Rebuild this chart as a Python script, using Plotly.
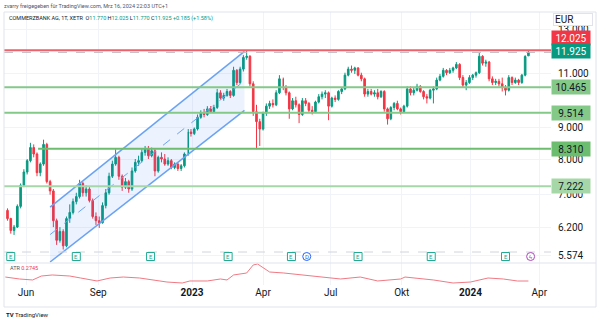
import math
import pandas as pd
import plotly.graph_objects as go
from plotly.subplots import make_subplots

# ---- Xetra sessions -------------------------------------------------------
holidays = ["2022-12-26", "2023-04-07", "2023-04-10", "2023-05-01",
            "2023-12-25", "2023-12-26", "2024-01-01", "2024-03-29"]

# ---- Commerzbank price candles (3-session bars, last bar = 2024-03-15) ----
opens = [6.60, 6.40, 6.12, 6.20, 6.70, 7.25, 7.62, 7.95, 8.35, 8.15,
         7.60, 7.85, 8.45, 7.35, 7.10, 6.35, 5.90, 6.10, 5.78, 6.40,
         6.55, 6.82, 6.95, 7.30, 7.05, 7.15, 6.85, 6.45, 6.35, 6.30,
         6.72, 7.05, 7.50, 7.85, 8.05, 7.50, 7.20, 7.35, 7.15, 7.65,
         7.90, 7.95, 8.20, 8.30, 8.10, 8.25, 7.65, 8.05, 8.00, 7.85,
         7.95, 7.75, 7.85, 7.72, 7.80, 8.15, 8.85, 8.80, 8.95, 9.35,
         9.50, 9.45, 9.65, 9.55, 9.70, 10.25, 10.05, 10.15, 10.30, 10.15,
         11.15, 10.65, 11.20, 11.70, 11.75, 10.60, 9.55, 9.20, 8.95, 9.50,
         9.75, 9.85, 9.80, 10.25, 10.80, 10.45, 10.25, 9.65, 9.95, 9.80,
         9.45, 9.95, 9.85, 9.60, 9.55, 9.90, 10.10, 10.20, 10.25, 9.75,
         10.05, 10.00, 10.30, 10.40, 10.95, 11.20, 11.15, 11.25, 10.95, 10.80,
         10.20, 10.30, 10.20, 10.25, 10.10, 10.30, 9.65, 9.30, 9.70, 9.85,
         9.65, 9.55, 9.75, 10.40, 10.25, 10.35, 10.50, 10.30, 10.10, 10.05,
         10.35, 10.40, 10.75, 10.90, 11.15, 11.05, 11.15, 11.25, 11.40, 10.85,
         10.55, 10.65, 10.85, 10.95, 11.05, 11.75, 11.45, 11.50, 10.80, 10.65,
         10.70, 10.60, 10.45, 10.35, 10.85, 10.65, 10.75, 10.65, 10.95, 11.770]
highs = [6.65, 6.42, 6.25, 6.75, 7.30, 7.70, 8.00, 8.50, 8.45, 8.20,
         7.90, 8.60, 8.50, 7.40, 7.15, 6.40, 6.20, 6.15, 6.45, 6.75,
         6.90, 7.05, 7.40, 7.35, 7.25, 7.20, 6.90, 6.55, 6.45, 6.80,
         7.15, 7.60, 7.95, 8.30, 8.10, 7.55, 7.45, 7.40, 7.75, 8.00,
         8.10, 8.30, 8.40, 8.40, 8.35, 8.30, 8.10, 8.20, 8.15, 8.05,
         8.00, 7.90, 7.90, 7.85, 8.20, 8.95, 8.95, 9.00, 9.45, 9.60,
         9.65, 9.75, 9.75, 9.80, 10.40, 10.35, 10.25, 10.40, 10.35, 11.30,
         11.20, 11.30, 11.80, 12.03, 11.80, 10.70, 9.80, 9.30, 9.55, 9.85,
         9.95, 10.00, 10.35, 10.95, 10.85, 10.55, 10.30, 10.05, 10.10, 9.85,
         10.05, 10.05, 9.90, 9.75, 9.95, 10.20, 10.30, 10.35, 10.30, 10.10,
         10.15, 10.35, 10.45, 11.05, 11.30, 11.35, 11.30, 11.28, 11.05, 10.85,
         10.40, 10.40, 10.35, 10.40, 10.35, 10.35, 9.70, 9.75, 9.90, 9.95,
         9.70, 9.80, 10.50, 10.50, 10.45, 10.60, 10.55, 10.35, 10.20, 10.40,
         10.50, 10.85, 11.00, 11.25, 11.20, 11.25, 11.30, 11.50, 11.45, 10.95,
         10.75, 10.95, 11.00, 11.10, 11.90, 11.80, 11.60, 11.55, 10.90, 10.80,
         10.80, 10.85, 10.55, 10.95, 10.90, 10.85, 10.80, 11.00, 11.80, 12.025]
lows = [6.35, 6.05, 6.02, 6.18, 6.65, 7.20, 7.55, 7.90, 8.05, 7.50,
        7.50, 7.80, 7.30, 7.00, 6.20, 5.80, 5.85, 5.70, 5.75, 6.30,
        6.50, 6.75, 6.90, 6.95, 6.95, 6.80, 6.40, 6.25, 6.18, 6.28,
        6.65, 7.00, 7.45, 7.80, 7.40, 7.10, 7.15, 7.05, 7.10, 7.60,
        7.80, 7.90, 8.10, 8.00, 8.05, 7.50, 7.60, 7.90, 7.80, 7.80,
        7.70, 7.70, 7.65, 7.65, 7.75, 8.10, 8.70, 8.75, 8.90, 9.30,
        9.35, 9.40, 9.50, 9.50, 9.65, 10.00, 9.95, 10.10, 10.05, 10.10,
        10.55, 10.60, 11.10, 11.60, 10.50, 9.40, 8.30, 8.40, 8.90, 9.40,
        9.65, 9.70, 9.75, 10.20, 10.35, 10.15, 9.30, 9.60, 9.70, 9.15,
        9.40, 9.75, 9.50, 9.45, 9.50, 9.85, 10.00, 10.05, 9.25, 9.70,
        9.90, 9.95, 10.20, 10.35, 10.90, 11.05, 11.00, 10.90, 10.70, 10.10,
        10.10, 10.15, 10.10, 10.00, 10.05, 9.55, 9.10, 9.25, 9.60, 9.60,
        9.45, 9.50, 9.70, 10.15, 10.15, 10.30, 10.25, 10.00, 9.85, 10.00,
        9.85, 10.35, 10.70, 10.85, 10.95, 11.00, 11.05, 11.20, 10.75, 10.45,
        10.35, 10.60, 10.75, 10.85, 11.00, 11.35, 11.30, 10.70, 10.55, 10.55,
        10.50, 10.30, 10.15, 10.30, 10.55, 10.60, 10.55, 10.60, 10.90, 11.770]
closes = [6.40, 6.12, 6.20, 6.70, 7.25, 7.62, 7.95, 8.35, 8.15, 7.60,
          7.85, 8.45, 7.35, 7.10, 6.35, 5.90, 6.10, 5.78, 6.40, 6.55,
          6.82, 6.95, 7.30, 7.05, 7.15, 6.85, 6.45, 6.35, 6.30, 6.72,
          7.05, 7.50, 7.85, 8.05, 7.50, 7.20, 7.35, 7.15, 7.65, 7.90,
          7.95, 8.20, 8.30, 8.10, 8.25, 7.65, 8.05, 8.00, 7.85, 7.95,
          7.75, 7.85, 7.72, 7.80, 8.15, 8.85, 8.80, 8.95, 9.35, 9.50,
          9.45, 9.65, 9.55, 9.70, 10.25, 10.05, 10.15, 10.30, 10.15, 11.15,
          10.65, 11.20, 11.70, 11.75, 10.60, 9.55, 9.20, 8.95, 9.50, 9.75,
          9.85, 9.80, 10.25, 10.80, 10.45, 10.25, 9.65, 9.95, 9.80, 9.45,
          9.95, 9.85, 9.60, 9.55, 9.90, 10.10, 10.20, 10.25, 9.75, 10.05,
          10.00, 10.30, 10.40, 10.95, 11.20, 11.15, 11.25, 10.95, 10.80, 10.20,
          10.30, 10.20, 10.25, 10.10, 10.30, 9.65, 9.30, 9.70, 9.85, 9.65,
          9.55, 9.75, 10.40, 10.25, 10.35, 10.50, 10.30, 10.10, 10.05, 10.35,
          10.40, 10.75, 10.90, 11.15, 11.05, 11.15, 11.25, 11.40, 10.85, 10.55,
          10.65, 10.85, 10.95, 11.05, 11.75, 11.45, 11.50, 10.80, 10.65, 10.70,
          10.60, 10.45, 10.35, 10.85, 10.65, 10.75, 10.65, 10.95, 11.74, 11.925]

# ---- ATR(14) ---------------------------------------------------------------
atr_dates = ["2022-05-05", "2022-05-24", "2022-06-09", "2022-06-21", "2022-07-05",
             "2022-07-27", "2022-08-10", "2022-08-31", "2022-09-16", "2022-10-04",
             "2022-10-25", "2022-11-10", "2022-11-29", "2022-12-19", "2022-12-29",
             "2023-01-20", "2023-02-07", "2023-02-15", "2023-02-23", "2023-03-13",
             "2023-03-21", "2023-03-27", "2023-04-03", "2023-04-13", "2023-05-03",
             "2023-05-16", "2023-05-24", "2023-06-20", "2023-07-14", "2023-08-09",
             "2023-08-31", "2023-09-29", "2023-10-05", "2023-11-10", "2023-12-06",
             "2024-01-02", "2024-01-24", "2024-02-13", "2024-03-01", "2024-03-15"]
atr_values = [0.339, 0.307, 0.291, 0.355, 0.372, 0.355, 0.323, 0.275, 0.323, 0.339,
              0.323, 0.291, 0.258, 0.242, 0.275, 0.275, 0.307, 0.291, 0.372, 0.404,
              0.534, 0.550, 0.485, 0.420, 0.404, 0.388, 0.372, 0.339, 0.307, 0.339,
              0.275, 0.307, 0.339, 0.291, 0.242, 0.258, 0.323, 0.307, 0.2745, 0.2745]

# ---- drawings ---------------------------------------------------------------
channel_dates = ["2022-07-01", "2023-03-09"]
channel_upper = [6.68, 11.97]
channel_lower = [5.44, 9.60]
resistance = 12.025
supports = [10.465, 9.514, 8.310, 7.222]
support_colors = ["#85c989", "#85c989", "#6cbd70", "#a6d7a8"]
last_price = 11.925

price_ticks = [5.574, 6.2, 7, 8, 9, 11, 13]
time_ticks = ["2022-06-01", "2022-09-01", "2023-01-02", "2023-04-03",
              "2023-07-03", "2023-10-02", "2024-01-02", "2024-04-01"]
time_labels = ["Jun", "Sep", "<b>2023</b>", "Apr", "Jul", "Okt", "<b>2024</b>", "Apr"]

earnings_dates = ["2022-05-12", "2022-08-04", "2022-11-08", "2023-02-16",
                  "2023-05-12", "2023-08-07", "2023-11-08", "2024-02-15"]
dividend_date = "2023-06-01"
event_date = "2024-03-19"

UP, DOWN = "#089981", "#f23645"
TXT = "#131722"
GRID = "#f0f3fa"

# plot-area geometry in pixels (top 12, pane split 263, bottom 285)
PLOT_H = 273
def paper_y(px):
    return (285 - px) / PLOT_H

sessions = pd.bdate_range("2022-05-02", "2024-03-15")
sessions = sessions[~sessions.isin(pd.to_datetime(holidays))]
candle_dates = sessions[::-1][::3][::-1][-len(closes):]

fig = make_subplots(rows=2, cols=1, shared_xaxes=True,
                    row_heights=[251, 22], vertical_spacing=0)

# parallel channel
fig.add_trace(go.Scatter(
    x=[channel_dates[0], channel_dates[1], channel_dates[1], channel_dates[0], channel_dates[0]],
    y=[channel_upper[0], channel_upper[1], channel_lower[1], channel_lower[0], channel_upper[0]],
    mode="lines", fill="toself", fillcolor="rgba(41,120,245,0.09)",
    line=dict(width=0), hoverinfo="skip"), row=1, col=1)
for ys in (channel_upper, channel_lower):
    fig.add_trace(go.Scatter(x=channel_dates, y=ys, mode="lines",
                             line=dict(color="#6aa3f5", width=1.5), hoverinfo="skip"),
                  row=1, col=1)
mid = [math.sqrt(a * b) for a, b in zip(channel_upper, channel_lower)]
fig.add_trace(go.Scatter(x=channel_dates, y=mid, mode="lines",
                         line=dict(color="#6aa3f5", width=1, dash="dash"), hoverinfo="skip"),
              row=1, col=1)

fig.add_trace(go.Candlestick(
    x=candle_dates, open=opens, high=highs, low=lows, close=closes,
    increasing=dict(line=dict(color=UP, width=1), fillcolor=UP),
    decreasing=dict(line=dict(color=DOWN, width=1), fillcolor=DOWN),
    whiskerwidth=0), row=1, col=1)

fig.add_trace(go.Scatter(x=atr_dates, y=atr_values, mode="lines",
                         line=dict(color="#f07a84", width=1), hoverinfo="skip"),
              row=2, col=1)

x_range = ["2022-05-03 19:00", "2024-04-15 16:00"]
fig.update_xaxes(range=x_range, rangebreaks=[dict(bounds=["sat", "mon"]), dict(values=holidays)],
                 showgrid=True, gridcolor=GRID, gridwidth=1, tickvals=time_ticks,
                 ticktext=time_labels, showline=False, zeroline=False, ticks="",
                 tickfont=dict(size=10, color=TXT), rangeslider=dict(visible=False),
                 automargin=False)
fig.update_xaxes(showticklabels=False, row=1, col=1)

fig.update_yaxes(type="log", range=[math.log10(5.42), math.log10(13.87)], side="right",
                 tickvals=price_ticks, ticktext=[f"{v:.3f}" for v in price_ticks],
                 tickfont=dict(size=10, color=TXT), showgrid=True, gridcolor=GRID,
                 zeroline=False, showline=False, ticks="", automargin=False,
                 ticklabelstandoff=6, row=1, col=1)
fig.update_yaxes(range=[0.2097, 0.566], showticklabels=False, showgrid=False,
                 zeroline=False, showline=False, ticks="", automargin=False, row=2, col=1)

shapes = []
# horizontal levels
shapes.append(dict(type="line", xref="paper", x0=0, x1=1, yref="y", y0=resistance, y1=resistance,
                   line=dict(color="#f0616b", width=2)))
for lvl, col in zip(supports, support_colors):
    x0 = "2022-06-16" if lvl == 8.310 else x_range[0]
    shapes.append(dict(type="line", xref="x", x0=x0, x1=x_range[1], yref="y", y0=lvl, y1=lvl,
                       line=dict(color=col, width=2)))
shapes.append(dict(type="line", xref="paper", x0=0, x1=1, yref="y", y0=last_price, y1=last_price,
                   line=dict(color="#b8bbc4", width=1, dash="dash")))
# events row
shapes.append(dict(type="line", xref="paper", x0=0, x1=1, yref="paper",
                   y0=paper_y(252), y1=paper_y(252),
                   line=dict(color="#d1d4dc", width=1, dash="dash")))
# pane separator and frame
shapes.append(dict(type="line", xref="paper", x0=0, x1=1.0823, yref="paper",
                   y0=paper_y(263), y1=paper_y(263), line=dict(color="#e0e3eb", width=1)))
shapes.append(dict(type="rect", xref="paper", x0=0, x1=1.0823, yref="paper",
                   y0=paper_y(307), y1=1, line=dict(color="#e0e3eb", width=1)))

ICON_Y = paper_y(256.5)
icons = [(d, "#22ab94", "E", "rect") for d in earnings_dates]
icons += [(dividend_date, "#2962ff", "D", "circle"), (event_date, "#ab47bc", "ϟ", "circle")]
ann = []
for d, col, letter, kind in icons:
    shapes.append(dict(type=kind, xref="x", xsizemode="pixel", xanchor=d, x0=-4, x1=4,
                       yref="paper", ysizemode="pixel", yanchor=ICON_Y, y0=-4, y1=4,
                       line=dict(color=col, width=1), fillcolor="white"))
    ann.append(dict(x=d, xref="x", y=ICON_Y, yref="paper", yanchor="middle", text=letter,
                    showarrow=False, font=dict(size=6, color=col)))

# price scale labels
def price_label(value, bg, fg, shift=0):
    return dict(x=1, xref="paper", xanchor="left", y=math.log10(value), yref="y",
                yshift=shift, text=f"{value:.3f}", showarrow=False,
                font=dict(size=10, color=fg), bgcolor=bg, width=36, height=12, borderpad=1)

ann.append(price_label(resistance, DOWN, "white", 12))
ann.append(price_label(last_price, UP, "white", 1))
for lvl, col in zip(supports, support_colors):
    ann.append(price_label(lvl, col, TXT))
ann.append(dict(x=1, xref="paper", xanchor="left", xshift=2, y=paper_y(13), yref="paper",
                yanchor="top", text="EUR", showarrow=False, font=dict(size=10, color=TXT),
                bgcolor="white", bordercolor="#e0e3eb", borderwidth=1, width=36, height=9,
                borderpad=1, align="left"))

# header, indicator legend and logo
ann.append(dict(x=-2 / 547, xref="paper", xanchor="left", y=paper_y(6), yref="paper",
                yanchor="middle", showarrow=False, font=dict(size=5.5, color="#50535e"),
                text="zvarry freigegeben für TradingView.com, Mrz 16, 2024 22:03 UTC+1"))
g = f"<span style='color:{UP}'>"
ann.append(dict(x=3 / 547, xref="paper", xanchor="left", y=paper_y(18), yref="paper",
                yanchor="middle", showarrow=False, font=dict(size=5.5, color=TXT),
                text=f"COMMERZBANK AG, 1T, XETR  O{g}11.770</span> H{g}12.025</span> "
                     f"L{g}11.770</span> C{g}11.925</span> {g}+0.185 (+1.58%)</span>"))
ann.append(dict(x=4 / 547, xref="paper", xanchor="left", y=paper_y(268), yref="paper",
                yanchor="middle", showarrow=False, font=dict(size=5.5, color="#50535e"),
                text=f"ATR <span style='color:{DOWN}'>0.2745</span>"))
ann.append(dict(x=0, xref="paper", xanchor="left", y=paper_y(314), yref="paper",
                yanchor="middle", showarrow=False, font=dict(size=6, color=TXT),
                text="<b>TV</b> TradingView"))

fig.update_layout(template="none", width=600, height=323, showlegend=False,
                  margin=dict(l=4, r=49, t=12, b=38),
                  paper_bgcolor="white", plot_bgcolor="white",
                  font=dict(family="Roboto, sans-serif", color=TXT),
                  shapes=shapes, annotations=ann, hovermode=False)
fig.update_layout(xaxis_rangeslider_visible=False)

fig.write_html("out.html")
